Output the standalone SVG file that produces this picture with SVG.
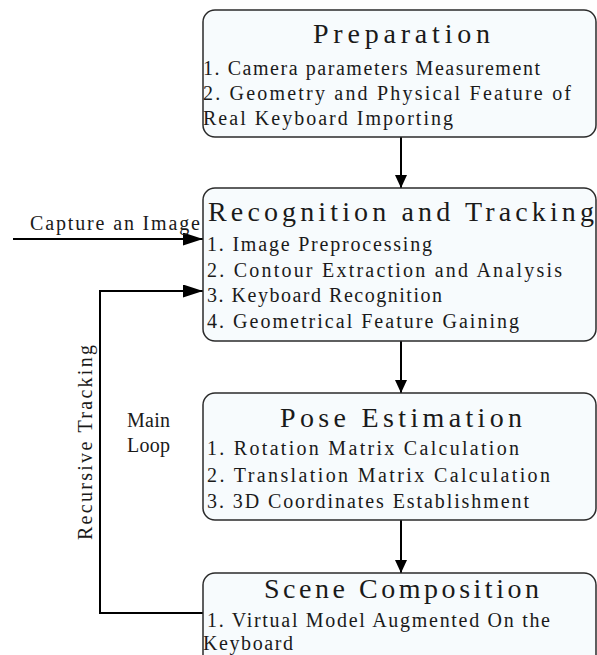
<svg xmlns="http://www.w3.org/2000/svg" width="597" height="655" viewBox="0 0 597 655">
  <style>
    .box { fill: #f7fbfd; stroke: #2b2b2b; stroke-width: 1.5; }
    .title { font-family: "Liberation Serif", "DejaVu Serif", serif; font-size: 28px; fill: #1a1a1a; }
    .item { font-family: "Liberation Serif", "DejaVu Serif", serif; font-size: 20px; fill: #1a1a1a; }
    .wire { fill: none; stroke: #000; stroke-width: 2; }
  </style>
  <defs>
    <marker id="tipShort" markerUnits="userSpaceOnUse" markerWidth="14" markerHeight="12" refX="13" refY="6" orient="auto">
      <path d="M0,0 L13,6 L0,12 Z" fill="#000"/>
    </marker>
    <marker id="tipLong" markerUnits="userSpaceOnUse" markerWidth="21" markerHeight="13" refX="20" refY="6.5" orient="auto">
      <path d="M0,0 L20,6.5 L0,13 Z" fill="#000"/>
    </marker>
  </defs>

  <rect width="597" height="655" fill="#fff"/>

  <!-- connectors -->
  <g id="connectors">
    <line class="wire" x1="401" y1="137" x2="401" y2="188" marker-end="url(#tipShort)"/>
    <line class="wire" x1="401" y1="341" x2="401" y2="393" marker-end="url(#tipShort)"/>
    <line class="wire" x1="401" y1="520" x2="401" y2="573" marker-end="url(#tipShort)"/>
    <line class="wire" x1="13" y1="239" x2="203" y2="239" marker-end="url(#tipLong)"/>
    <polyline class="wire" points="203,613 100,613 100,291 203,291" marker-end="url(#tipLong)"/>
  </g>

  <!-- edge and loop labels -->
  <g id="labels">
    <text class="item" x="30" y="230" textLength="170">Capture an Image</text>
    <text class="item" x="127" y="427" textLength="43">Main</text>
    <text class="item" x="127" y="452" textLength="43">Loop</text>
    <text class="item" transform="translate(92,540) rotate(-90)" x="0" y="0" textLength="195">Recursive Tracking</text>
  </g>

  <g id="preparation">
    <rect class="box" x="203" y="10" width="393" height="127" rx="12"/>
    <text class="title" x="313" y="43" textLength="177">Preparation</text>
    <text class="item" x="203" y="75" textLength="337">1. Camera parameters Measurement</text>
    <text class="item" x="203" y="100" textLength="368">2. Geometry and Physical Feature of</text>
    <text class="item" x="203" y="125" textLength="250">Real Keyboard Importing</text>
  </g>

  <g id="recognition">
    <rect class="box" x="203" y="188" width="393" height="153" rx="12"/>
    <text class="title" x="208" y="221" textLength="386">Recognition and Tracking</text>
    <text class="item" x="207" y="251" textLength="225">1. Image Preprocessing</text>
    <text class="item" x="207" y="277" textLength="355">2. Contour Extraction and Analysis</text>
    <text class="item" x="207" y="302" textLength="235">3. Keyboard Recognition</text>
    <text class="item" x="207" y="328" textLength="312">4. Geometrical Feature Gaining</text>
  </g>

  <g id="pose">
    <rect class="box" x="203" y="393" width="393" height="127" rx="12"/>
    <text class="title" x="280" y="427" textLength="242">Pose Estimation</text>
    <text class="item" x="207" y="455" textLength="312">1. Rotation Matrix Calculation</text>
    <text class="item" x="207" y="482" textLength="343">2. Translation Matrix Calculation</text>
    <text class="item" x="207" y="508" textLength="322">3. 3D Coordinates Establishment</text>
  </g>

  <g id="scene">
    <rect class="box" x="203" y="573" width="393" height="110" rx="12"/>
    <text class="title" x="264" y="598" textLength="275">Scene Composition</text>
    <text class="item" x="207" y="627" textLength="343">1. Virtual Model Augmented On the</text>
    <text class="item" x="203" y="650" textLength="90">Keyboard</text>
  </g>
</svg>
